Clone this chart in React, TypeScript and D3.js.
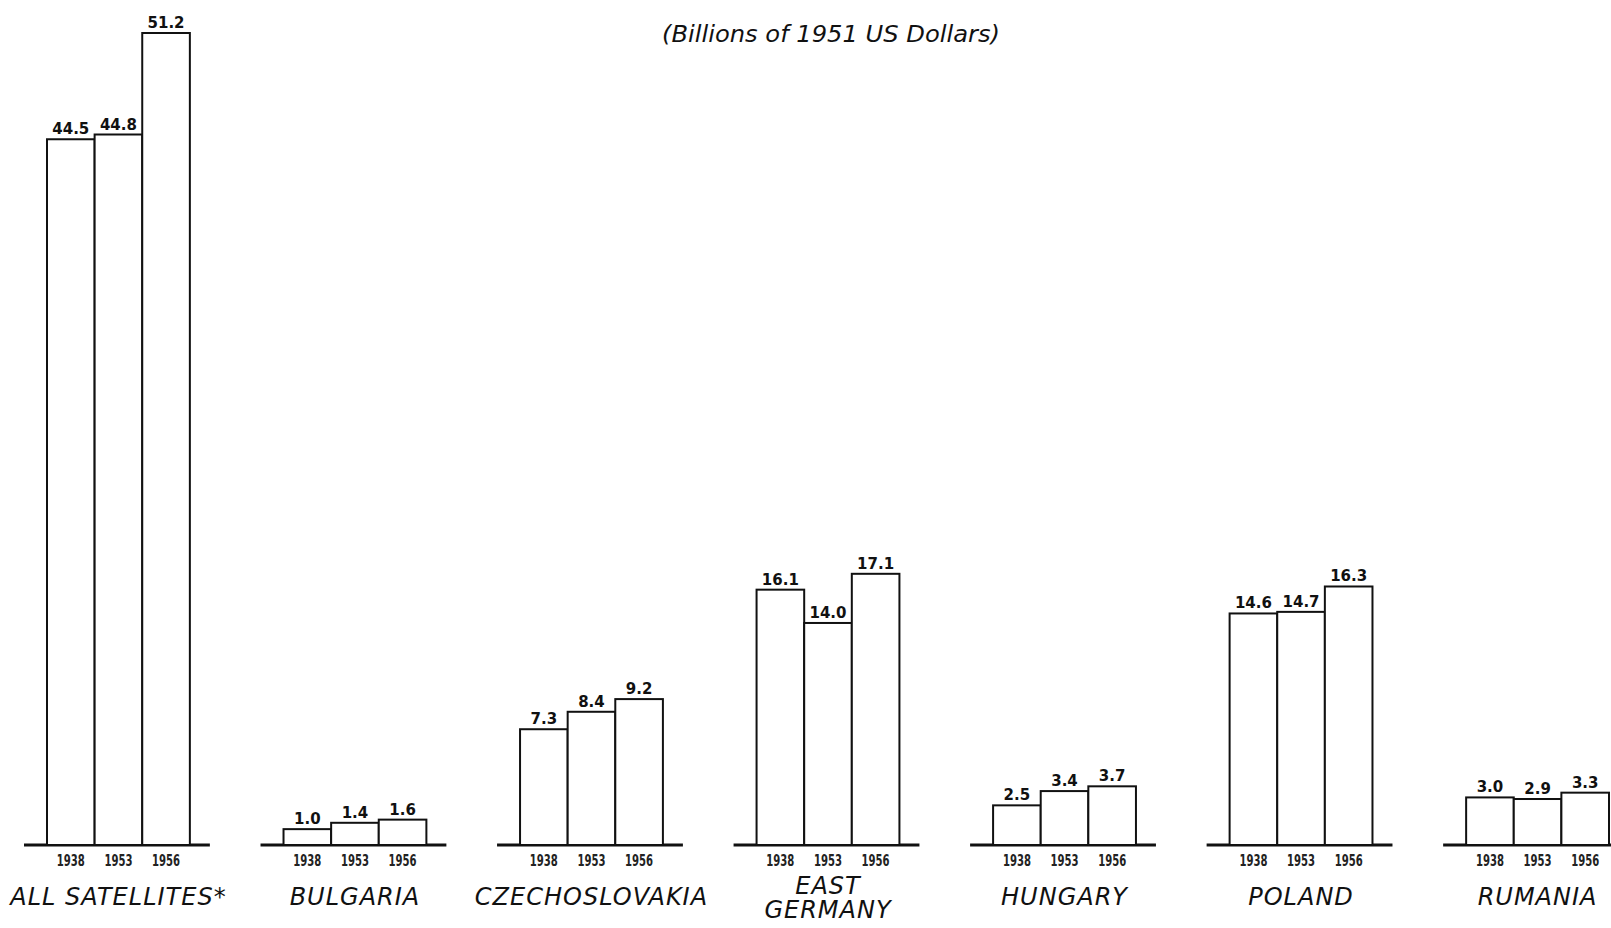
import * as React from 'react'
import * as d3 from 'd3'

const WIDTH = 1611
const HEIGHT = 928
const BASELINE_Y = 845
const TOP_Y = 33

const countries = ['ALL SATELLITES*', 'BULGARIA', 'CZECHOSLOVAKIA', 'EAST GERMANY', 'HUNGARY', 'POLAND', 'RUMANIA']
const countryLines = [['ALL SATELLITES*'], ['BULGARIA'], ['CZECHOSLOVAKIA'], ['EAST', 'GERMANY'], ['HUNGARY'], ['POLAND'], ['RUMANIA']]
const years = ['1938', '1953', '1956']
const gnp1938 = [44.5, 1.0, 7.3, 16.1, 2.5, 14.6, 3.0]
const gnp1953 = [44.8, 1.4, 8.4, 14.0, 3.4, 14.7, 2.9]
const gnp1956 = [51.2, 1.6, 9.2, 17.1, 3.7, 16.3, 3.3]
const subtitle = '(Billions of 1951 US Dollars)'

interface Cell {
  country: string
  year: string
  value: number
}

function drawChart(svgRef: React.RefObject<SVGSVGElement | null>) {
  const svg = d3.select(svgRef.current)
  svg.selectAll('*').remove()
  svg.attr('width', WIDTH).attr('height', HEIGHT)

  svg.append('rect').attr('width', WIDTH).attr('height', HEIGHT).attr('fill', '#fff')

  const series = [gnp1938, gnp1953, gnp1956]
  const cells: Cell[] = []
  countries.forEach((c, i) => {
    years.forEach((y, j) => cells.push({ country: c, year: y, value: series[j][i] }))
  })

  const x0 = d3
    .scaleBand<string>()
    .domain(countries)
    .range([47, 1609])
    .paddingInner(0.396)
    .paddingOuter(0)
  const x1 = d3.scaleBand<string>().domain(years).range([0, x0.bandwidth()])
  const y = d3.scaleLinear().domain([0, 51.2]).range([BASELINE_Y, TOP_Y])

  const labelFont = "'DejaVu Sans', 'Open Sans', sans-serif"

  // subtitle (the main title line is cut off at the top of the scan)
  svg
    .append('text')
    .attr('x', 831)
    .attr('y', 42)
    .attr('text-anchor', 'middle')
    .attr('font-family', labelFont)
    .attr('font-style', 'oblique')
    .attr('font-size', 23)
    .attr('textLength', 338)
    .attr('lengthAdjust', 'spacingAndGlyphs')
    .attr('fill', '#111')
    .text(subtitle)

  const groups = svg
    .selectAll('g.group')
    .data(countries)
    .join('g')
    .attr('class', 'group')
    .attr('transform', d => `translate(${x0(d)},0)`)

  groups
    .append('line')
    .attr('x1', -23)
    .attr('x2', d => (d === 'RUMANIA' ? WIDTH : x0.bandwidth() + 20))
    .attr('y1', BASELINE_Y)
    .attr('y2', BASELINE_Y)
    .attr('stroke', '#111')
    .attr('stroke-width', 3)

  const bars = groups
    .selectAll('g.bar')
    .data(d => cells.filter(c => c.country === d))
    .join('g')
    .attr('class', 'bar')

  bars
    .append('rect')
    .attr('x', d => x1(d.year)!)
    .attr('y', d => y(d.value))
    .attr('width', x1.bandwidth())
    .attr('height', d => BASELINE_Y - y(d.value))
    .attr('fill', '#fff')
    .attr('stroke', '#111')
    .attr('stroke-width', 2)

  bars
    .append('text')
    .attr('x', d => x1(d.year)! + x1.bandwidth() / 2)
    .attr('y', d => y(d.value) - 5)
    .attr('text-anchor', 'middle')
    .attr('font-family', "'DejaVu Sans', sans-serif")
    .attr('font-weight', 'bold')
    .attr('font-size', 15)
    .attr('fill', '#111')
    .text(d => d3.format('.1f')(d.value))

  bars
    .append('text')
    .attr('x', d => x1(d.year)! + x1.bandwidth() / 2)
    .attr('y', 866)
    .attr('text-anchor', 'middle')
    .attr('font-family', "'Liberation Sans Narrow', 'DejaVu Sans Condensed', sans-serif")
    .attr('font-size', 16)
    .attr('font-weight', 'bold')
    .attr('textLength', 28)
    .attr('lengthAdjust', 'spacingAndGlyphs')
    .attr('fill', '#222')
    .text(d => d.year)

  groups
    .append('text')
    .attr('x', x0.bandwidth() / 2)
    .attr('text-anchor', 'middle')
    .attr('font-family', labelFont)
    .attr('font-style', 'oblique')
    .attr('font-size', 24)
    .attr('letter-spacing', 1)
    .attr('fill', '#111')
    .selectAll('tspan')
    .data((d, i) => countryLines[i])
    .join('tspan')
    .attr('x', x0.bandwidth() / 2)
    .attr('y', (d, i, nodes) => (nodes.length > 1 ? 894 + i * 24 : 905))
    .text(d => d)
}

export default function App() {
  const svgRef = React.useRef<SVGSVGElement>(null)
  React.useEffect(() => {
    drawChart(svgRef)
  }, [])
  return (
    <svg
      ref={svgRef}
      style={{ position: 'absolute', left: 0, top: 0, display: 'block' }}
    />
  )
}
